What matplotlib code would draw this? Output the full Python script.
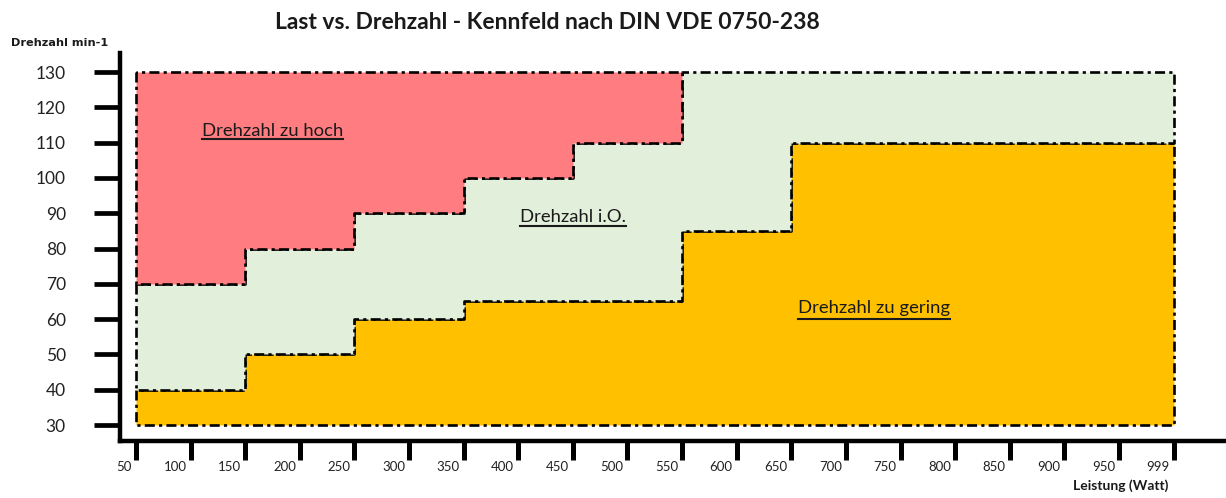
import matplotlib
matplotlib.use('Agg')
import matplotlib.pyplot as plt
import matplotlib.transforms as mtransforms
from matplotlib.lines import Line2D
from matplotlib.textpath import TextPath
from matplotlib.font_manager import FontProperties
import numpy as np

plt.rcParams['font.family'] = ['Lato', 'DejaVu Sans']

# x axis categories (Watt) and y ticks (min-1)
watt_labels = [50, 100, 150, 200, 250, 300, 350, 400, 450, 500,
               550, 600, 650, 700, 750, 800, 850, 900, 950, 999]
rpm_ticks = [30, 40, 50, 60, 70, 80, 90, 100, 110, 120, 130]

# lower limit of the allowed band (top of "zu gering")
lower_w = [50, 150, 250, 350, 550, 650, 999]
lower_rpm = [40, 50, 60, 65, 85, 110]
# upper limit of the allowed band (bottom of "zu hoch")
upper_w = [50, 150, 250, 350, 450, 550, 999]
upper_rpm = [70, 80, 90, 100, 110, 130]
rpm_min = 30
rpm_max = 130
high_end_w = 550

zones = ["Drehzahl zu hoch", "Drehzahl i.O.", "Drehzahl zu gering"]
zone_w = [175, 450, 726]
zone_rpm = [111.9, 87.4, 61.8]

c_high = '#FF7C80'
c_ok = '#E2EFDA'
c_low = '#FFC000'

idx = np.arange(len(watt_labels))


def pos(w):
    return np.interp(w, watt_labels, idx)


def step_at(xs, edges, vals):
    # value of a step function defined on edges at points xs
    out = []
    for x in xs:
        i = np.searchsorted(edges, x, side='right') - 1
        i = min(max(i, 0), len(vals) - 1)
        out.append(vals[i])
    return np.array(out)


fig = plt.figure(figsize=(12.26, 4.98), dpi=100)
ax = fig.add_axes([120 / 1226, 57 / 498, 1 - 120 / 1226, (441 - 53) / 498])

ls = (0, (3.8, 1.6, 1.2, 1.6))
lw = 1.9

grid_w = sorted(set(lower_w) | set(upper_w))
lo = step_at(grid_w, lower_w, lower_rpm)
hi = step_at(grid_w, upper_w, upper_rpm)

# zu gering
ax.fill_between(pos(grid_w), rpm_min, lo, step='post', facecolor=c_low,
                edgecolor='black', linewidth=lw, linestyle=ls, zorder=2)
# i.O.
ax.fill_between(pos(grid_w), lo, hi, step='post', facecolor=c_ok,
                edgecolor='black', linewidth=lw, linestyle=ls, zorder=2)
# zu hoch
hw = [w for w in grid_w if w <= high_end_w]
ax.fill_between(pos(hw), step_at(hw, upper_w, upper_rpm), rpm_max, step='post',
                facecolor=c_high, edgecolor='black', linewidth=lw,
                linestyle=ls, zorder=2)

zone_fs = 13.3
zone_texts = []
for name, w, r in zip(zones, zone_w, zone_rpm):
    t = ax.text(pos(w), r, name, fontsize=zone_fs, ha='center', va='baseline',
                color='#1a1a1a', zorder=5)
    zone_texts.append(t)

ax.set_xlim(-0.293, 19.96)
ax.set_ylim(25.47, 135.4)

for s in ['top', 'right']:
    ax.spines[s].set_visible(False)
for s in ['left', 'bottom']:
    ax.spines[s].set_linewidth(3.2)

ax.set_yticks(rpm_ticks)
ax.set_yticklabels([str(v) for v in rpm_ticks], fontsize=12.5, color='#222222')
ax.tick_params(axis='y', direction='out', length=19, width=3.4, pad=20)

ax.set_xticks(idx)
ax.set_xticklabels([str(v) for v in watt_labels], fontsize=9.5, color='#222222')
ax.set_xticks(idx[1::2], minor=True)
ax.tick_params(axis='x', which='major', direction='out', length=13.5, width=3.6, pad=1)
ax.tick_params(axis='x', which='minor', direction='in', length=11.5, width=3.6)
off = mtransforms.ScaledTranslation(-0.04, 0, fig.dpi_scale_trans)
for lab in ax.get_xticklabels():
    lab.set_ha('right')
    lab.set_transform(lab.get_transform() + off)

fig.text(547 / 1226, 1 - 29 / 498, "Last vs. Drehzahl - Kennfeld nach DIN VDE 0750-238",
         fontsize=16.5, fontweight='bold', ha='center', va='baseline', color='#1a1a1a')
fig.text(11 / 1226, 1 - 43 / 498, "Drehzahl min-1", family='DejaVu Sans',
         fontsize=8.1, fontweight='bold', ha='left', va='center', color='#1a1a1a')
fig.text(1168 / 1226, 1 - 486 / 498, "Leistung (Watt)", fontsize=10,
         fontweight='bold', ha='right', va='center', color='#1a1a1a')

# underline the zone labels, just below the lowest ink of each label
fig.canvas.draw()
r = fig.canvas.get_renderer()
inv = fig.transFigure.inverted()
px_per_pt = fig.dpi / 72.0
for t, name in zip(zone_texts, zones):
    bb = t.get_window_extent(r)
    x_base, y_base = ax.transData.transform(t.get_position())
    ink = TextPath((0, 0), name, size=zone_fs, prop=FontProperties(family='Lato'))
    y_ink = min(ink.get_extents().y0, 0) * px_per_pt
    y_line = y_base + y_ink - 3
    (x0, y0), (x1, y1) = inv.transform([(bb.x0, y_line), (bb.x1, y_line)])
    fig.add_artist(Line2D([x0, x1], [y0, y1], color='#1a1a1a', linewidth=1.5,
                          transform=fig.transFigure, zorder=6))

fig.savefig('out.png', dpi=100)
